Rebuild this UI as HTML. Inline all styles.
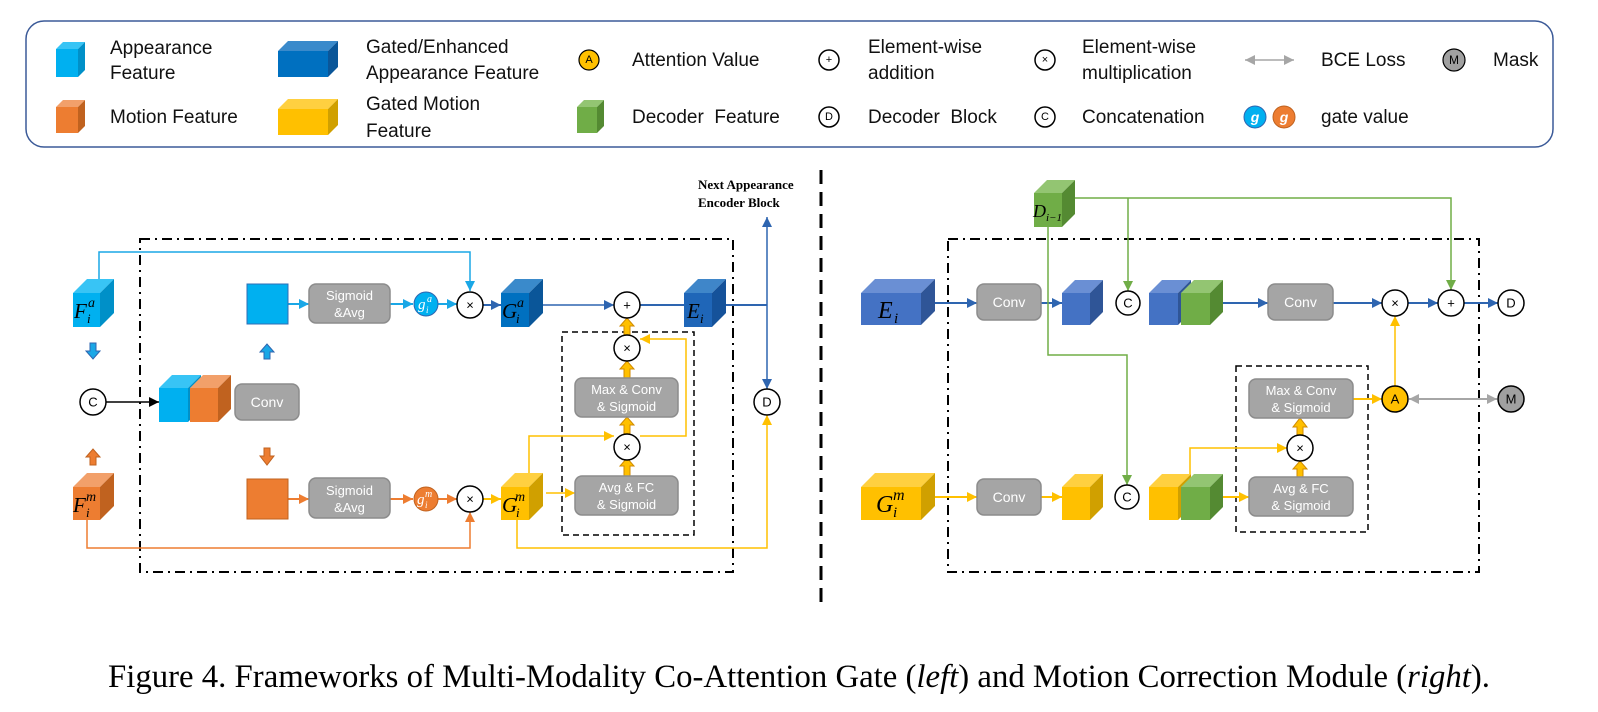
<!DOCTYPE html>
<html><head><meta charset="utf-8"><style>
html,body{margin:0;padding:0;background:#fff}
svg{display:block}
.lg{font-family:"Liberation Sans",sans-serif;font-size:19px;fill:#111}
.bx{fill:#a5a5a5;stroke:#8c8c8c;stroke-width:1.5}
.bt{font-family:"Liberation Sans",sans-serif;font-size:13px;fill:#fff;text-anchor:middle}
.ci{fill:#fff;stroke:#000;stroke-width:1.5}
.ct{font-family:"Liberation Sans",sans-serif;font-size:13px;fill:#000;text-anchor:middle;dominant-baseline:central}
.m{font-family:"Liberation Serif",serif;font-style:italic;fill:#000}
.w{fill:#fff}
</style></head><body>
<svg width="1598" height="712" viewBox="0 0 1598 712" xmlns="http://www.w3.org/2000/svg">
<defs>
<marker id="lb" markerUnits="userSpaceOnUse" markerWidth="10" markerHeight="10" refX="10" refY="5" orient="auto"><path d="M0,0L10,5L0,10z" fill="#1aa7e6"/></marker>
<marker id="db" markerUnits="userSpaceOnUse" markerWidth="10" markerHeight="10" refX="10" refY="5" orient="auto"><path d="M0,0L10,5L0,10z" fill="#2e65b0"/></marker>
<marker id="or" markerUnits="userSpaceOnUse" markerWidth="10" markerHeight="10" refX="10" refY="5" orient="auto"><path d="M0,0L10,5L0,10z" fill="#ED7D31"/></marker>
<marker id="ye" markerUnits="userSpaceOnUse" markerWidth="10" markerHeight="10" refX="10" refY="5" orient="auto"><path d="M0,0L10,5L0,10z" fill="#FFC000"/></marker>
<marker id="gr" markerUnits="userSpaceOnUse" markerWidth="10" markerHeight="10" refX="10" refY="5" orient="auto"><path d="M0,0L10,5L0,10z" fill="#70AD47"/></marker>
<marker id="bk" markerUnits="userSpaceOnUse" markerWidth="10" markerHeight="10" refX="10" refY="5" orient="auto"><path d="M0,0L10,5L0,10z" fill="#000"/></marker>
<marker id="gy" markerUnits="userSpaceOnUse" markerWidth="10" markerHeight="10" refX="10" refY="5" orient="auto-start-reverse"><path d="M0,0L10,5L0,10z" fill="#a6a6a6"/></marker>
</defs>

<!-- Legend -->
<rect x="26" y="21" width="1527" height="126" rx="18" fill="#fff" stroke="#3b5a98" stroke-width="1.5"/>
<g>
<rect x="56" y="49" width="22" height="28" fill="#00B0F0"/><polygon points="56,49 63,42 85,42 78,49" fill="#38c4f5"/><polygon points="78,49 85,42 85,70 78,77" fill="#0090c8"/>
<rect x="56" y="107" width="22" height="26" fill="#ED7D31"/><polygon points="56,107 63,100 85,100 78,107" fill="#f2a06a"/><polygon points="78,107 85,100 85,126 78,133" fill="#c0621f"/>
<rect x="278" y="51" width="50" height="26" fill="#0070C0"/><polygon points="278,51 288,41 338,41 328,51" fill="#3a8acb"/><polygon points="328,51 338,41 338,67 328,77" fill="#0a5699"/>
<rect x="278" y="109" width="50" height="26" fill="#FFC000"/><polygon points="278,109 288,99 338,99 328,109" fill="#ffd040"/><polygon points="328,109 338,99 338,125 328,135" fill="#d0a000"/>
<rect x="577" y="107" width="20" height="26" fill="#70AD47"/><polygon points="577,107 584,100 604,100 597,107" fill="#93c572"/><polygon points="597,107 604,100 604,126 597,133" fill="#548a32"/>
</g>
<text class="lg" x="110" y="54">Appearance</text><text class="lg" x="110" y="79">Feature</text>
<text class="lg" x="110" y="123">Motion Feature</text>
<text class="lg" x="366" y="53">Gated/Enhanced</text><text class="lg" x="366" y="79">Appearance Feature</text>
<text class="lg" x="366" y="110">Gated Motion</text><text class="lg" x="366" y="137">Feature</text>
<circle cx="589" cy="60" r="10" fill="#FFC000" stroke="#000" stroke-width="1.2"/><text class="ct" x="589" y="60" style="font-size:11px">A</text>
<text class="lg" x="632" y="66">Attention Value</text>
<text class="lg" x="632" y="123">Decoder&#160; Feature</text>
<circle cx="829" cy="60" r="10" class="ci"/><text class="ct" x="829" y="60" style="font-size:11px">+</text>
<text class="lg" x="868" y="53">Element-wise</text><text class="lg" x="868" y="79">addition</text>
<circle cx="829" cy="117" r="10" class="ci"/><text class="ct" x="829" y="117" style="font-size:11px">D</text>
<text class="lg" x="868" y="123">Decoder&#160; Block</text>
<circle cx="1045" cy="60" r="10" class="ci"/><text class="ct" x="1045" y="60" style="font-size:11px">×</text>
<text class="lg" x="1082" y="53">Element-wise</text><text class="lg" x="1082" y="79">multiplication</text>
<circle cx="1045" cy="117" r="10" class="ci"/><text class="ct" x="1045" y="117" style="font-size:11px">C</text>
<text class="lg" x="1082" y="123">Concatenation</text>
<line x1="1245" y1="60" x2="1294" y2="60" stroke="#a6a6a6" stroke-width="1.5" marker-start="url(#gy)" marker-end="url(#gy)"/>
<text class="lg" x="1321" y="66">BCE Loss</text>
<circle cx="1454" cy="60" r="11" fill="#a0a0a0" stroke="#000" stroke-width="1.2"/><text class="ct" x="1454" y="60" style="font-size:12px">M</text>
<text class="lg" x="1493" y="66">Mask</text>
<circle cx="1255" cy="117" r="11" fill="#00B0F0" stroke="#2e65b0"/><text class="ct" x="1255" y="117" style="font-size:14px;fill:#fff;font-style:italic;font-weight:bold">g</text>
<circle cx="1284" cy="117" r="11" fill="#ED7D31" stroke="#c0621f"/><text class="ct" x="1284" y="117" style="font-size:14px;fill:#fff;font-style:italic;font-weight:bold">g</text>
<text class="lg" x="1321" y="123">gate value</text>

<!-- divider -->
<line x1="821" y1="170" x2="821" y2="602" stroke="#000" stroke-width="3" stroke-dasharray="14,8"/>

<!-- LEFT -->
<rect x="140" y="239" width="593" height="333" fill="none" stroke="#000" stroke-width="2" stroke-dasharray="10,5,2,5"/>
<rect x="562" y="332" width="132" height="203" fill="none" stroke="#000" stroke-width="1.5" stroke-dasharray="6,4"/>

<polyline points="99,279 99,252 470,252 470,291" fill="none" stroke="#1aa7e6" stroke-width="1.5" marker-end="url(#lb)"/>
<line x1="288" y1="304" x2="309" y2="304" stroke="#1aa7e6" stroke-width="2" marker-end="url(#lb)"/>
<line x1="390" y1="304" x2="413" y2="304" stroke="#1aa7e6" stroke-width="2" marker-end="url(#lb)"/>
<line x1="438" y1="304" x2="457" y2="304" stroke="#1aa7e6" stroke-width="2" marker-end="url(#lb)"/>
<line x1="483" y1="305" x2="501" y2="305" stroke="#2e65b0" stroke-width="2" marker-end="url(#db)"/>
<line x1="543" y1="305" x2="614" y2="305" stroke="#2e65b0" stroke-width="1.5" marker-end="url(#db)"/>
<line x1="640" y1="305" x2="684" y2="305" stroke="#2e65b0" stroke-width="2"/>
<line x1="726" y1="305" x2="767" y2="305" stroke="#2e65b0" stroke-width="2"/>
<line x1="767" y1="305" x2="767" y2="217" stroke="#2e65b0" stroke-width="1.5" marker-end="url(#db)"/>
<line x1="767" y1="305" x2="767" y2="389" stroke="#2e65b0" stroke-width="1.5" marker-end="url(#db)"/>
<line x1="106" y1="402" x2="159" y2="402" stroke="#000" stroke-width="1.5" marker-end="url(#bk)"/>
<line x1="288" y1="499" x2="309" y2="499" stroke="#ED7D31" stroke-width="2" marker-end="url(#or)"/>
<line x1="390" y1="499" x2="413" y2="499" stroke="#ED7D31" stroke-width="2" marker-end="url(#or)"/>
<line x1="438" y1="499" x2="457" y2="499" stroke="#ED7D31" stroke-width="2" marker-end="url(#or)"/>
<line x1="483" y1="499" x2="501" y2="499" stroke="#FFC000" stroke-width="2" marker-end="url(#ye)"/>
<polyline points="87,520 87,548 470,548 470,512" fill="none" stroke="#ED7D31" stroke-width="1.5" marker-end="url(#or)"/>
<polyline points="517,520 517,548 767,548 767,415" fill="none" stroke="#FFC000" stroke-width="1.5" marker-end="url(#ye)"/>
<polyline points="529,473 529,436 614,436" fill="none" stroke="#FFC000" stroke-width="1.5" marker-end="url(#ye)"/>
<line x1="546" y1="493" x2="575" y2="493" stroke="#FFC000" stroke-width="1.5" marker-end="url(#ye)"/>
<polyline points="640,436 686,436 686,339 640,339" fill="none" stroke="#FFC000" stroke-width="1.5" marker-end="url(#ye)"/>
<g fill="#FFC000" stroke="#d08a00" stroke-width="1">
<polygon points="624,476 624,466 620,466 627,458 634,466 630,466 630,476"/>
<polygon points="624,434 624,425 620,425 627,417 634,425 630,425 630,434"/>
<polygon points="624,378 624,369 620,369 627,361 634,369 630,369 630,378"/>
<polygon points="624,335 624,326 620,326 627,318 634,326 630,326 630,335"/>
</g>

<polygon points="90,343 96,343 96,351 100,351 93,359 86,351 90,351" fill="#1aa7e6" stroke="#2e65b0"/>
<polygon points="264,359 270,359 270,352 274,352 267,344 260,352 264,352" fill="#1aa7e6" stroke="#2e65b0"/>
<polygon points="264,448 270,448 270,456 274,456 267,465 260,456 264,456" fill="#ED7D31" stroke="#c0621f"/>
<polygon points="90,465 96,465 96,457 100,457 93,449 86,457 90,457" fill="#ED7D31" stroke="#c0621f"/>

<rect x="73" y="293" width="27" height="34" fill="#00B0F0"/><polygon points="73,293 87,279 114,279 100,293" fill="#38c4f5"/><polygon points="100,293 114,279 114,313 100,327" fill="#0090c8"/>
<text class="m" x="74" y="318" font-size="21">F</text><text class="m" x="87" y="323" font-size="13">i</text><text class="m" x="88" y="307" font-size="14">a</text>
<rect x="73" y="487" width="27" height="33" fill="#ED7D31"/><polygon points="73,487 87,473 114,473 100,487" fill="#f2a06a"/><polygon points="100,487 114,473 114,506 100,520" fill="#c0621f"/>
<text class="m" x="73" y="512" font-size="21">F</text><text class="m" x="86" y="517" font-size="13">i</text><text class="m" x="86" y="501" font-size="14">m</text>
<rect x="501" y="293" width="28" height="34" fill="#0070C0"/><polygon points="501,293 515,279 543,279 529,293" fill="#3a8acb"/><polygon points="529,293 543,279 543,313 529,327" fill="#0a5699"/>
<text class="m" x="502" y="318" font-size="21">G</text><text class="m" x="516" y="323" font-size="13">i</text><text class="m" x="517" y="307" font-size="14">a</text>
<rect x="501" y="487" width="28" height="33" fill="#FFC000"/><polygon points="501,487 515,473 543,473 529,487" fill="#ffd040"/><polygon points="529,487 543,473 543,506 529,520" fill="#d0a000"/>
<text class="m" x="502" y="512" font-size="21">G</text><text class="m" x="516" y="517" font-size="13">i</text><text class="m" x="515" y="501" font-size="14">m</text>
<rect x="684" y="293" width="28" height="34" fill="#1f66b8"/><polygon points="684,293 698,279 726,279 712,293" fill="#3f86c9"/><polygon points="712,293 726,279 726,313 712,327" fill="#15529a"/>
<text class="m" x="687" y="318" font-size="21">E</text><text class="m" x="700" y="323" font-size="13">i</text>

<rect x="247" y="284" width="41" height="40" fill="#00B0F0" stroke="#2f6eb5" stroke-width="1"/>
<rect x="247" y="479" width="41" height="40" fill="#ED7D31" stroke="#c0621f" stroke-width="1"/>
<rect x="309" y="284" width="81" height="39" rx="7" class="bx"/><text class="bt" x="349.5" y="300">Sigmoid</text><text class="bt" x="349.5" y="317">&amp;Avg</text>
<rect x="309" y="478" width="81" height="40" rx="7" class="bx"/><text class="bt" x="349.5" y="495">Sigmoid</text><text class="bt" x="349.5" y="512">&amp;Avg</text>
<circle cx="426" cy="304" r="12" fill="#00B0F0" stroke="#2e65b0"/><text class="m w" x="418" y="309" font-size="15">g</text><text class="m w" x="426" y="313" font-size="9">i</text><text class="m w" x="427" y="302" font-size="10">a</text>
<circle cx="426" cy="499" r="12" fill="#ED7D31" stroke="#c0621f"/><text class="m w" x="417" y="504" font-size="15">g</text><text class="m w" x="425" y="508" font-size="9">i</text><text class="m w" x="425" y="497" font-size="10">m</text>
<circle cx="470" cy="305" r="13" class="ci"/><text class="ct" x="470" y="305">×</text>
<circle cx="470" cy="499" r="13" class="ci"/><text class="ct" x="470" y="499">×</text>
<circle cx="627" cy="305" r="13" class="ci"/><text class="ct" x="627" y="305">+</text>
<circle cx="627" cy="348" r="13" class="ci"/><text class="ct" x="627" y="348">×</text>
<circle cx="627" cy="447" r="13" class="ci"/><text class="ct" x="627" y="447">×</text>
<circle cx="767" cy="402" r="13" class="ci"/><text class="ct" x="767" y="402">D</text>
<circle cx="93" cy="402" r="13" class="ci"/><text class="ct" x="93" y="402">C</text>
<rect x="575" y="378" width="103" height="39" rx="7" class="bx"/><text class="bt" x="626.5" y="394">Max &amp; Conv</text><text class="bt" x="626.5" y="411">&amp; Sigmoid</text>
<rect x="575" y="476" width="103" height="39" rx="7" class="bx"/><text class="bt" x="626.5" y="492">Avg &amp; FC</text><text class="bt" x="626.5" y="509">&amp; Sigmoid</text>
<rect x="159" y="388" width="29" height="34" fill="#00B0F0"/><polygon points="159,388 172,375 201,375 188,388" fill="#38c4f5"/><polygon points="188,388 201,375 201,409 188,422" fill="#0090c8"/>
<rect x="190" y="388" width="28" height="34" fill="#ED7D31"/><polygon points="190,388 203,375 231,375 218,388" fill="#f2a06a"/><polygon points="218,388 231,375 231,409 218,422" fill="#c0621f"/>
<rect x="235" y="384" width="64" height="36" rx="7" class="bx"/><text class="bt" x="267" y="407" style="font-size:14px">Conv</text>
<text x="698" y="189" style="font-family:'Liberation Serif',serif;font-weight:bold;font-size:13px">Next Appearance</text>
<text x="698" y="207" style="font-family:'Liberation Serif',serif;font-weight:bold;font-size:13px">Encoder Block</text>

<!-- RIGHT -->
<rect x="948" y="239" width="531" height="333" fill="none" stroke="#000" stroke-width="2" stroke-dasharray="10,5,2,5"/>
<rect x="1236" y="366" width="132" height="166" fill="none" stroke="#000" stroke-width="1.5" stroke-dasharray="6,4"/>
<line x1="935" y1="303" x2="977" y2="303" stroke="#2e65b0" stroke-width="2" marker-end="url(#db)"/>
<line x1="1041" y1="303" x2="1062" y2="303" stroke="#2e65b0" stroke-width="2" marker-end="url(#db)"/>
<line x1="1223" y1="303" x2="1268" y2="303" stroke="#2e65b0" stroke-width="2" marker-end="url(#db)"/>
<line x1="1333" y1="303" x2="1382" y2="303" stroke="#2e65b0" stroke-width="2" marker-end="url(#db)"/>
<line x1="1408" y1="303" x2="1438" y2="303" stroke="#2e65b0" stroke-width="2" marker-end="url(#db)"/>
<line x1="1464" y1="303" x2="1498" y2="303" stroke="#2e65b0" stroke-width="2" marker-end="url(#db)"/>
<polyline points="1075,198 1451,198 1451,290" fill="none" stroke="#70AD47" stroke-width="1.5" marker-end="url(#gr)"/>
<line x1="1128" y1="198" x2="1128" y2="291" stroke="#70AD47" stroke-width="1.5" marker-end="url(#gr)"/>
<polyline points="1048,227 1048,355 1127,355 1127,485" fill="none" stroke="#70AD47" stroke-width="1.5" marker-end="url(#gr)"/>
<line x1="935" y1="497" x2="977" y2="497" stroke="#FFC000" stroke-width="2" marker-end="url(#ye)"/>
<line x1="1041" y1="497" x2="1062" y2="497" stroke="#FFC000" stroke-width="2" marker-end="url(#ye)"/>
<line x1="1223" y1="497" x2="1249" y2="497" stroke="#FFC000" stroke-width="2" marker-end="url(#ye)"/>
<polyline points="1190,474 1190,448 1287,448" fill="none" stroke="#FFC000" stroke-width="1.5" marker-end="url(#ye)"/>
<line x1="1353" y1="399" x2="1382" y2="399" stroke="#FFC000" stroke-width="2" marker-end="url(#ye)"/>
<line x1="1395" y1="386" x2="1395" y2="316" stroke="#FFC000" stroke-width="1.5" marker-end="url(#ye)"/>
<line x1="1409" y1="399" x2="1497" y2="399" stroke="#a6a6a6" stroke-width="2" marker-start="url(#gy)" marker-end="url(#gy)"/>
<g fill="#FFC000" stroke="#d08a00" stroke-width="1">
<polygon points="1297,477 1297,469 1293,469 1300,461 1307,469 1303,469 1303,477"/>
<polygon points="1297,435 1297,427 1293,427 1300,418 1307,427 1303,427 1303,435"/>
</g>
<rect x="861" y="293" width="60" height="32" fill="#4472C4"/><polygon points="861,293 875,279 935,279 921,293" fill="#6a8fd4"/><polygon points="921,293 935,279 935,311 921,325" fill="#2f5597"/>
<text class="m" x="878" y="318" font-size="24">E</text><text class="m" x="894" y="323" font-size="15">i</text>
<rect x="861" y="487" width="60" height="33" fill="#FFC000"/><polygon points="861,487 875,473 935,473 921,487" fill="#ffd040"/><polygon points="921,487 935,473 935,506 921,520" fill="#d0a000"/>
<text class="m" x="876" y="512" font-size="24">G</text><text class="m" x="893" y="517" font-size="15">i</text><text class="m" x="893" y="500" font-size="16">m</text>
<rect x="977" y="284" width="64" height="36" rx="7" class="bx"/><text class="bt" x="1009" y="307" style="font-size:14px">Conv</text>
<rect x="977" y="479" width="64" height="36" rx="7" class="bx"/><text class="bt" x="1009" y="502" style="font-size:14px">Conv</text>
<rect x="1268" y="284" width="65" height="36" rx="7" class="bx"/><text class="bt" x="1300.5" y="307" style="font-size:14px">Conv</text>
<rect x="1062" y="293" width="28" height="32" fill="#4472C4"/><polygon points="1062,293 1075,280 1103,280 1090,293" fill="#6a8fd4"/><polygon points="1090,293 1103,280 1103,312 1090,325" fill="#2f5597"/>
<rect x="1062" y="487" width="28" height="33" fill="#FFC000"/><polygon points="1062,487 1075,474 1103,474 1090,487" fill="#ffd040"/><polygon points="1090,487 1103,474 1103,507 1090,520" fill="#d0a000"/>
<rect x="1149" y="293" width="29" height="32" fill="#4472C4"/><polygon points="1149,293 1162,280 1191,280 1178,293" fill="#6a8fd4"/><polygon points="1178,293 1191,280 1191,312 1178,325" fill="#2f5597"/>
<rect x="1181" y="293" width="29" height="32" fill="#70AD47"/><polygon points="1181,293 1194,280 1223,280 1210,293" fill="#93c572"/><polygon points="1210,293 1223,280 1223,312 1210,325" fill="#548a32"/>
<rect x="1149" y="487" width="29" height="33" fill="#FFC000"/><polygon points="1149,487 1162,474 1191,474 1178,487" fill="#ffd040"/><polygon points="1178,487 1191,474 1191,507 1178,520" fill="#d0a000"/>
<rect x="1181" y="487" width="29" height="33" fill="#70AD47"/><polygon points="1181,487 1194,474 1223,474 1210,487" fill="#93c572"/><polygon points="1210,487 1223,474 1223,507 1210,520" fill="#548a32"/>
<rect x="1034" y="193" width="28" height="34" fill="#70AD47"/><polygon points="1034,193 1047,180 1075,180 1062,193" fill="#93c572"/><polygon points="1062,193 1075,180 1075,214 1062,227" fill="#548a32"/>
<text class="m" x="1033" y="217" font-size="18">D</text><text class="m" x="1046" y="221" font-size="11">i−1</text>
<circle cx="1128" cy="303" r="12" class="ci"/><text class="ct" x="1128" y="303">C</text>
<circle cx="1127" cy="497" r="12" class="ci"/><text class="ct" x="1127" y="497">C</text>
<circle cx="1395" cy="303" r="13" class="ci"/><text class="ct" x="1395" y="303">×</text>
<circle cx="1451" cy="303" r="13" class="ci"/><text class="ct" x="1451" y="303">+</text>
<circle cx="1511" cy="303" r="13" class="ci"/><text class="ct" x="1511" y="303">D</text>
<circle cx="1300" cy="448" r="13" class="ci"/><text class="ct" x="1300" y="448">×</text>
<circle cx="1395" cy="399" r="13" fill="#FFC000" stroke="#000" stroke-width="1.5"/><text class="ct" x="1395" y="399">A</text>
<circle cx="1511" cy="399" r="13" fill="#a0a0a0" stroke="#000" stroke-width="1.5"/><text class="ct" x="1511" y="399">M</text>
<rect x="1249" y="379" width="104" height="39" rx="7" class="bx"/><text class="bt" x="1301" y="395">Max &amp; Conv</text><text class="bt" x="1301" y="412">&amp; Sigmoid</text>
<rect x="1249" y="477" width="104" height="39" rx="7" class="bx"/><text class="bt" x="1301" y="493">Avg &amp; FC</text><text class="bt" x="1301" y="510">&amp; Sigmoid</text>

<text x="108" y="687" textLength="1382" lengthAdjust="spacingAndGlyphs" style="font-family:'Liberation Serif',serif;font-size:33px">Figure 4. Frameworks of Multi-Modality Co-Attention Gate (<tspan font-style="italic">left</tspan>) and Motion Correction Module (<tspan font-style="italic">right</tspan>).</text>
</svg>
</body></html>
